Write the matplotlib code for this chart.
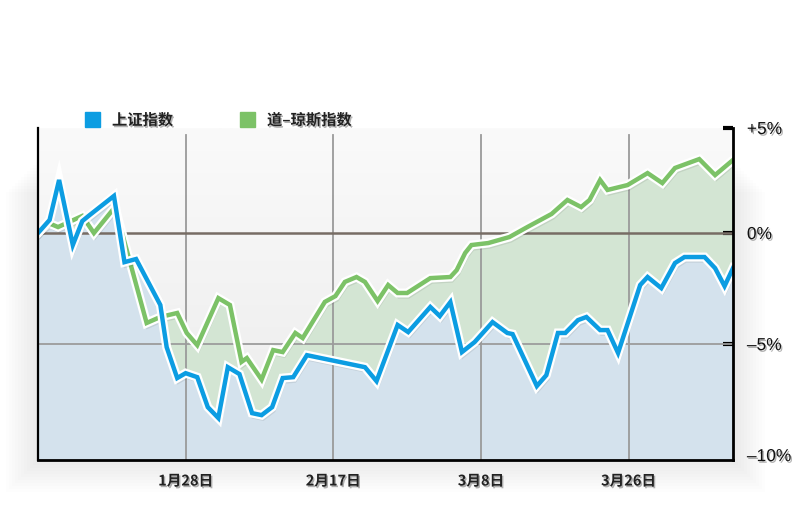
import numpy as np
import matplotlib.pyplot as plt
import matplotlib.patheffects as pe
from matplotlib.patches import Rectangle
from matplotlib.colors import LinearSegmentedColormap

plt.rcParams['font.family'] = ['Noto Sans CJK SC', 'DejaVu Sans']

# 上证指数: trading-day position, % change
sh_day = [0, 1.1, 2.0, 3.3, 4.2, 4.9, 7.2, 8.2, 9.3, 11.6, 12.2, 13.2, 14.0, 15.1,
          16.1, 17.1, 18.0, 19.1, 20.3, 21.2, 22.2, 23.2, 24.2, 25.5, 31.0, 32.1,
          34.1, 35.1, 37.2, 38.1, 39.1, 40.2, 41.4, 43.1, 44.5, 45.0, 47.3, 48.2,
          49.3, 50.0, 51.2, 52.0, 53.3, 54.0, 55.0, 57.1, 57.8, 59.1, 60.4, 61.3,
          63.2, 64.2, 65.1, 65.9]
sh_pct = [0, 0.59, 2.39, -0.54, 0.54, 0.81, 1.67, -1.31, -1.17, -3.24, -5.14, -6.53,
          -6.31, -6.49, -7.84, -8.33, -6.04, -6.35, -8.11, -8.2, -7.84, -6.53, -6.49,
          -5.5, -6.04, -6.67, -4.14, -4.46, -3.33, -3.74, -3.11, -5.36, -4.91, -4.01,
          -4.5, -4.55, -6.89, -6.4, -4.5, -4.5, -3.92, -3.78, -4.37, -4.37, -5.4,
          -2.34, -1.98, -2.48, -1.35, -1.08, -1.08, -1.58, -2.39, -1.58]

# 道-琼斯指数
dj_day = [0, 1.0, 1.9, 4.2, 5.3, 7.3, 10.3, 11.6, 13.2, 14.1, 15.1, 17.1, 18.2, 19.3,
          19.8, 21.2, 22.3, 23.2, 24.4, 25.1, 27.2, 28.2, 29.1, 30.2, 31.0, 32.2,
          33.2, 34.1, 35.0, 37.2, 39.1, 39.7, 40.5, 41.1, 42.7, 44.7, 46.4, 48.7,
          50.2, 51.5, 52.3, 53.3, 54.0, 55.9, 57.8, 59.2, 60.4, 62.7, 64.2, 65.9]
dj_pct = [0, 0.45, 0.27, 0.77, 0.0, 1.17, -4.05, -3.78, -3.6, -4.5, -5.05, -2.93,
          -3.24, -5.8, -5.63, -6.6, -5.27, -5.36, -4.5, -4.73, -3.1, -2.84, -2.2,
          -1.98, -2.2, -3.06, -2.34, -2.7, -2.7, -2.03, -1.98, -1.67, -0.9, -0.54,
          -0.45, -0.18, 0.27, 0.86, 1.49, 1.17, 1.49, 2.39, 1.94, 2.16, 2.7, 2.25,
          2.93, 3.33, 2.61, 3.29]

tick_day = [14, 28, 42, 56]
tick_label = ['1月28日', '2月17日', '3月8日', '3月26日']
pct_ticks = [4.73, 0, -5, -10]
pct_label = ['+5%', '0%', '–5%', '–10%']

series_names = ['上证指数', '道–琼斯指数']
blue = '#0c9de2'
green = '#7cc267'

fig = plt.figure(figsize=(8, 5.12), dpi=100)
fig.patch.set_facecolor('white')
ax = fig.add_axes([38 / 800, 52 / 512, 695 / 800, 332 / 512])
x0, x1 = 0, 65.9
y0, y1 = -10.22, 4.73

# soft drop shadow around the plot box
for d in range(2, 34, 3):
    fig.add_artist(Rectangle(((38 - d) / 800, (52 - d) / 512), (695 + 2 * d) / 800,
                             (300) / 512, transform=fig.transFigure,
                             facecolor='black', edgecolor='none', alpha=0.006, zorder=-5))

# background gradient
grad = np.linspace(0, 1, 256).reshape(-1, 1)
bg_cmap = LinearSegmentedColormap.from_list('bg', ['#fafafa', '#ebebeb'])
ax.imshow(grad, extent=[x0, x1, y0, y1], aspect='auto', cmap=bg_cmap, zorder=0)

# fills
xs = np.union1d(sh_day, dj_day)
sh_i = np.interp(xs, sh_day, sh_pct)
dj_i = np.interp(xs, dj_day, dj_pct)
ax.fill_between(xs, y0, sh_i, color='#d4e2ed', lw=0, zorder=1)
ax.fill_between(xs, sh_i, dj_i, where=dj_i > sh_i, interpolate=True,
                color='#d3e5d3', lw=0, zorder=1)

# grid
for d in tick_day:
    ax.axvline(d, ymax=0.979, color='#9a9a9a', lw=1.3, zorder=2)
ax.axhline(-5, color='#9c9c9c', lw=1.3, zorder=2)
ax.axhline(0, color='#776c64', lw=1.8, zorder=2)

line_fx = [pe.SimpleLineShadow(offset=(1, -2.5), shadow_color='black', alpha=0.08),
           pe.Stroke(linewidth=6.5, foreground='white'), pe.Normal()]
ax.plot(dj_day, dj_pct, color=green, lw=3.2, zorder=4, path_effects=line_fx,
        solid_joinstyle='miter')
ax.plot(sh_day, sh_pct, color=blue, lw=3.2, zorder=5, path_effects=line_fx,
        solid_joinstyle='miter')

ax.set_xlim(x0, x1)
ax.set_ylim(y0, y1)

ax.spines['top'].set_visible(False)
ax.spines['left'].set_linewidth(1.6)
ax.spines['right'].set_linewidth(2.0)
ax.spines['bottom'].set_linewidth(2.0)
for s in ['left', 'right', 'bottom']:
    ax.spines[s].set_color('black')
    ax.spines[s].set_zorder(6)

txt_fx = [pe.withSimplePatchShadow(offset=(1, -1.2), shadow_rgbFace='black', alpha=0.3)]

ax.set_xticks(tick_day)
ax.set_xticklabels(tick_label, fontsize=10.5, fontweight='bold', color='#222222')
ax.tick_params(axis='x', length=0, pad=9)

ax.yaxis.tick_right()
ax.set_yticks(pct_ticks)
ax.set_yticklabels(pct_label, fontsize=12.5, color='#111111', family='Liberation Sans')
ax.tick_params(axis='y', direction='in', length=7, width=3, color='black', pad=10)
ax.yaxis.get_major_ticks()[3].tick2line.set_visible(False)
for lab in ax.get_xticklabels() + ax.get_yticklabels():
    lab.set_path_effects(txt_fx)

# legend
fig.add_artist(Rectangle((85 / 800, 1 - 127 / 512), 15 / 800, 15 / 512,
                         transform=fig.transFigure, color=blue))
fig.add_artist(Rectangle((240 / 800, 1 - 127 / 512), 15 / 800, 15 / 512,
                         transform=fig.transFigure, color=green))
fig.text(112 / 800, 1 - 120 / 512, series_names[0], fontsize=11, fontweight='bold',
         color='#222222', va='center', path_effects=txt_fx)
fig.text(267 / 800, 1 - 120 / 512, series_names[1], fontsize=11, fontweight='bold',
         color='#222222', va='center', path_effects=txt_fx)

fig.savefig('out.png', dpi=100)
